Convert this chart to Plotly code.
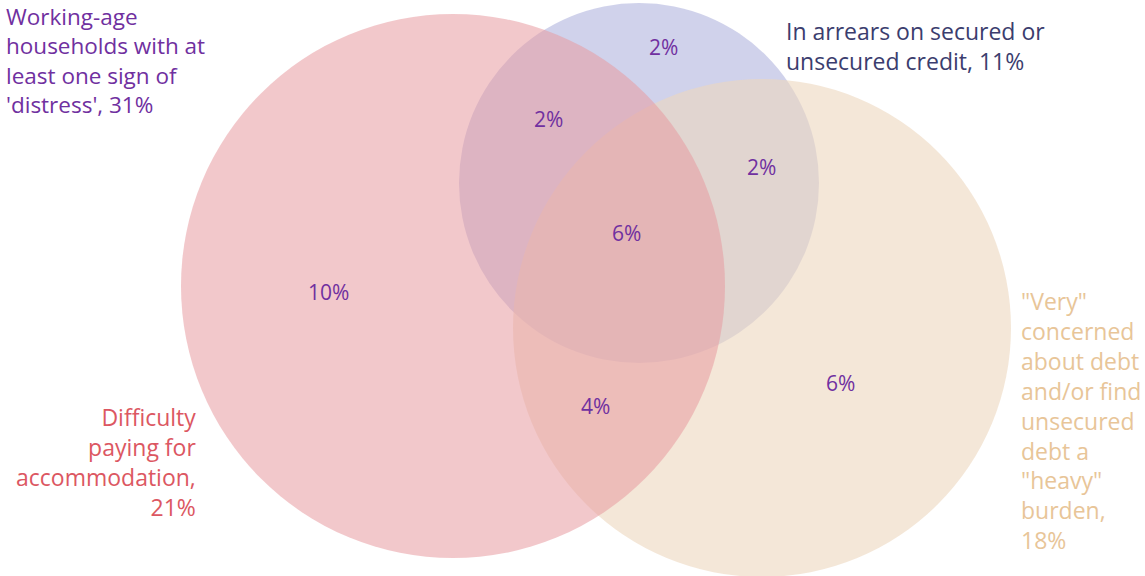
import plotly.graph_objects as go

# ---- data ----
accommodation_lines = ["Difficulty", "paying for", "accommodation,", "21%"]
arrears_lines = ["In arrears on secured or", "unsecured credit, 11%"]
concerned_lines = ["\"Very\"", "concerned", "about debt", "and/or find", "unsecured",
                   "debt a", "\"heavy\"", "burden,", "18%"]
total_lines = ["Working-age", "households with at", "least one sign of", "'distress', 31%"]
region_labels = ["10%", "2%", "2%", "6%", "2%", "4%", "6%"]

# ---- layout geometry (pixels) ----
W, H = 1145, 576
# circles: (cx, cy, r, fill)  drawn bottom -> top
circles = [
    (639, 183, 180, "rgba(161,165,215,0.5)"),   # arrears (blue)
    (762, 328, 249, "rgba(237,215,190,0.6)"),   # concerned (beige)
    (453, 286, 272, "rgba(231,155,160,0.55)"),  # accommodation (red)
]
region_pos = [(328, 292), (663, 47), (548, 119), (626, 233), (761, 167), (595, 406), (840, 383)]

FONT = "Open Sans"
PURPLE = "#7030a0"

fig = go.Figure()
fig.add_trace(go.Scatter(x=[0, W], y=[0, H], mode="markers", marker=dict(opacity=0),
                         hoverinfo="skip", showlegend=False))

shapes = []
for cx, cy, r, col in circles:
    shapes.append(dict(type="circle", xref="x", yref="y", x0=cx - r, x1=cx + r,
                       y0=cy - r, y1=cy + r, fillcolor=col, line=dict(width=0), layer="below"))

ann = []
for (x, y), t in zip(region_pos, region_labels):
    ann.append(dict(x=x, y=y, text=t, showarrow=False, xref="x", yref="y",
                    font=dict(family=FONT, size=21, color=PURPLE)))


def block(lines, x, yc, anchor, color, size):
    ann.append(dict(x=x, y=yc, text="<br>".join(lines), showarrow=False, xref="x", yref="y",
                    xanchor=anchor, yanchor="middle", align=anchor,
                    font=dict(family=FONT, size=size, color=color)))


block(total_lines, 4, 60, "left", PURPLE, 22.5)
block(accommodation_lines, 198, 462, "right", "#dc5762", 23)
block(arrears_lines, 784, 46, "left", "#3b3d6e", 23)
block(concerned_lines, 1019, 420, "left", "#e8c598", 23)

fig.update_layout(
    width=W, height=H, margin=dict(l=0, r=0, t=0, b=0),
    paper_bgcolor="white", plot_bgcolor="white",
    xaxis=dict(range=[0, W], visible=False, fixedrange=True),
    yaxis=dict(range=[H, 0], visible=False, fixedrange=True),
    shapes=shapes, annotations=ann,
)
fig.write_html("out.html")
